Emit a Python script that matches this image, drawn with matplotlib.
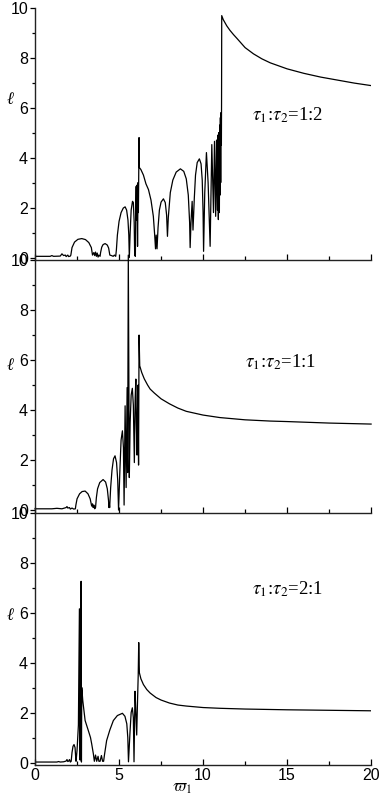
import numpy as np
import matplotlib
matplotlib.use('Agg')
import matplotlib.pyplot as plt
from matplotlib.ticker import MultipleLocator

plt.rcParams['font.family'] = ['Liberation Sans', 'DejaVu Sans']
plt.rcParams['mathtext.fontset'] = 'stix'

# tau1:tau2 = 1:2
w_12 = [0.0, 0.9, 1.0, 1.1, 1.5, 1.6, 1.7, 1.8, 1.85, 1.95, 2.0, 2.1,
        2.13, 2.2, 2.35, 2.55, 2.78, 3.0, 3.2, 3.35, 3.42,
        3.5, 3.55, 3.6, 3.65, 3.7, 3.75, 3.8, 3.87,
        3.9, 3.97, 4.05, 4.17, 4.3, 4.38, 4.45,
        4.55, 4.65, 4.72, 4.8,
        4.84, 4.9, 5.0, 5.12, 5.25, 5.36, 5.45, 5.53, 5.58, 5.61,
        5.66, 5.72, 5.8, 5.85, 5.9, 5.93,
        5.97, 6.0, 6.02, 6.04, 6.07, 6.1, 6.13, 6.15, 6.19, 6.21,
        6.3, 6.45, 6.6, 6.75, 6.9, 7.04, 7.12, 7.17, 7.21, 7.26,
        7.32, 7.4, 7.5, 7.64, 7.75, 7.83, 7.88,
        7.93, 8.05, 8.2, 8.4, 8.65, 8.85, 9.0, 9.12, 9.2, 9.23,
        9.28, 9.35, 9.4,
        9.48, 9.55, 9.65, 9.78, 9.88, 9.95, 10.0, 10.03,
        10.1, 10.2, 10.3, 10.42, 10.52, 10.62, 10.68, 10.75, 10.8, 10.85,
        10.88, 10.91, 10.94, 10.97, 10.99, 11.01, 11.03, 11.05, 11.07,
        11.09, 11.1, 11.11,
        11.2, 11.41, 11.6, 11.81, 12.0, 12.5, 13.0, 13.5, 14.0, 15.0,
        16.0, 17.0, 18.0, 19.0, 20.0]
l_12 = [0.05, 0.05, 0.08, 0.05, 0.06, 0.15, 0.08, 0.1, 0.04, 0.1, 0.04, 0.06,
        0.1, 0.4, 0.62, 0.73, 0.76, 0.72, 0.6, 0.4, 0.1,
        0.2, 0.08, 0.22, 0.05, 0.18, 0.02, 0.1, 0.05,
        0.2, 0.42, 0.52, 0.56, 0.5, 0.38, 0.1,
        0.08, 0.05, 0.1, 0.05,
        0.3, 0.9, 1.45, 1.8, 1.98, 2.03, 1.9, 1.5, 0.9, 0.0,
        1.0, 1.9, 2.25, 2.2, 1.4, 0.1,
        0.05, 2.2, 2.85, 1.5, 2.9, 0.45, 3.0, 1.8, 4.8, 3.6,
        3.52, 3.3, 2.95, 2.72, 2.3, 1.65, 0.9, 0.35, 0.9, 0.35,
        1.2, 1.9, 2.22, 2.35, 2.2, 1.7, 0.85,
        1.6, 2.6, 3.1, 3.42, 3.55, 3.45, 3.15, 2.5, 1.4, 0.4,
        1.4, 2.25, 1.1,
        2.4, 3.3, 3.8, 3.95, 3.75, 3.1, 1.8, 0.25,
        2.6, 4.2, 3.0, 0.45, 4.52, 1.8, 4.65, 1.65, 4.7, 1.9,
        4.9, 1.52, 5.0, 1.8, 5.3, 2.5, 5.6, 3.0, 5.8,
        4.5, 6.2, 9.68,
        9.52, 9.27, 9.09, 8.92, 8.78, 8.4, 8.15, 7.95, 7.79, 7.55,
        7.37, 7.22, 7.1, 6.98, 6.88]

# tau1:tau2 = 1:1
w_11 = [0.0, 1.0, 1.3, 1.6, 1.85, 1.9, 1.95, 2.05, 2.1, 2.2, 2.3, 2.4,
        2.43, 2.5, 2.65, 2.8, 2.98, 3.15, 3.28, 3.37, 3.42, 3.46, 3.5, 3.55, 3.6,
        3.65, 3.72, 3.85, 4.05, 4.2, 4.3, 4.37, 4.4, 4.42, 4.44,
        4.5, 4.58, 4.67, 4.76, 4.85, 4.92, 4.97,
        5.05, 5.12, 5.2, 5.26, 5.3, 5.36, 5.42, 5.48, 5.51, 5.55, 5.61,
        5.66, 5.72, 5.79, 5.85, 5.91, 5.96, 6.0, 6.03, 6.07, 6.1, 6.13,
        6.16, 6.19, 6.23,
        6.35, 6.5, 6.7, 6.85, 7.1, 7.5, 8.0, 8.5, 9.0, 10.0, 11.0, 12.5,
        14.0, 15.0, 17.5, 20.0]
l_11 = [0.05, 0.05, 0.07, 0.05, 0.1, 0.14, 0.08, 0.1, 0.04, 0.08, 0.04, 0.05,
        0.2, 0.45, 0.65, 0.74, 0.76, 0.65, 0.45, 0.16, 0.25, 0.1, 0.2, 0.05, 0.1,
        0.5, 0.85, 1.1, 1.22, 1.12, 0.85, 0.4, 0.1, 0.25, 0.1,
        0.9, 1.6, 2.05, 2.17, 1.9, 1.2, 0.0,
        1.6, 2.8, 3.17, 2.5, 0.2, 4.17, 0.9, 4.9, 1.5, 10.2, 1.3,
        3.5, 4.6, 4.87, 4.2, 1.9, 4.5, 5.24, 3.5, 2.2, 4.0, 5.0,
        1.8, 7.0, 5.77,
        5.5, 5.25, 5.0, 4.84, 4.68, 4.45, 4.25, 4.08, 3.95, 3.8, 3.7, 3.61,
        3.56, 3.54, 3.48, 3.44]

# tau1:tau2 = 2:1
w_21 = [0.0, 1.3, 1.4, 1.5, 1.7, 1.85, 1.9, 1.95, 2.0, 2.05, 2.1, 2.15,
        2.2, 2.26, 2.32, 2.38, 2.42, 2.44, 2.5, 2.58, 2.64, 2.68, 2.7, 2.74,
        2.76, 2.78, 2.84, 2.98, 3.17, 3.3, 3.37, 3.47, 3.53,
        3.6, 3.67, 3.75, 3.8, 3.87, 3.95, 4.02, 4.08,
        4.13, 4.26, 4.45, 4.66, 4.9, 5.2, 5.35, 5.46, 5.52, 5.56,
        5.65, 5.72, 5.79, 5.85, 5.89, 5.95, 6.0, 6.05, 6.1, 6.14, 6.17, 6.21,
        6.3, 6.45, 6.65, 6.85, 7.2, 7.5, 8.0, 8.5, 9.0, 10.0, 11.0, 12.5,
        15.0, 17.5, 20.0]
l_21 = [0.02, 0.02, 0.04, 0.02, 0.03, 0.06, 0.12, 0.04, 0.06, 0.12, 0.02, 0.05,
        0.4, 0.65, 0.72, 0.6, 0.2, 0.05, 0.5, 1.5, 6.15, 0.1, 2.5, 7.25,
        0.02, 3.0, 2.48, 1.68, 1.28, 1.0, 0.75, 0.35, 0.05,
        0.3, 0.05, 0.25, 0.05, 0.05, 0.28, 0.05, 0.05,
        0.3, 0.88, 1.3, 1.68, 1.88, 1.97, 1.85, 1.55, 1.0, 0.03,
        1.2, 2.0, 2.19, 1.8, 0.03, 2.85, 2.0, 1.1, 2.5, 3.5, 4.8, 3.59,
        3.35, 3.12, 2.92, 2.78, 2.6, 2.5, 2.38, 2.3, 2.26, 2.2, 2.17, 2.14,
        2.11, 2.09, 2.07]

panels = [(w_12, l_12, r'$\tau_1$:$\tau_2$=1:2', 12.9, 5.7, 0.634),
          (w_11, l_11, r'$\tau_1$:$\tau_2$=1:1', 12.5, 5.9, 0.58),
          (w_21, l_21, r'$\tau_1$:$\tau_2$=2:1', 12.9, 6.95, 0.59)]

fig = plt.figure(figsize=(3.81, 8.0), dpi=100)
left, width, h = 0.092, 0.882, 0.3156
bottoms = [0.0437 + 2 * h, 0.0437 + h, 0.0437]

for i, (w, l, lab, tx, ty, ly) in enumerate(panels):
    ax = fig.add_axes([left, bottoms[i], width, h])
    ax.patch.set_alpha(0)
    ax.plot(w, l, color='black', lw=0.9, clip_on=(i != 1))
    ax.set_xlim(0, 20)
    ax.set_ylim(-0.1, 10)
    ax.spines['top'].set_visible(False)
    ax.spines['right'].set_visible(False)
    for s in ['left', 'bottom']:
        ax.spines[s].set_linewidth(1.0)
        ax.spines[s].set_color('#222222')
    ax.yaxis.set_major_locator(MultipleLocator(2))
    ax.yaxis.set_minor_locator(MultipleLocator(1))
    ax.xaxis.set_major_locator(MultipleLocator(5))
    ax.xaxis.set_minor_locator(MultipleLocator(2.5))
    ax.tick_params(axis='y', which='major', direction='out', length=3.5, width=0.9, pad=1.5, labelsize=11.5)
    ax.tick_params(axis='y', which='minor', direction='out', length=2.5, width=0.9)
    ax.tick_params(axis='x', which='major', direction='in', length=4, width=0.9, pad=2, labelsize=11.5)
    ax.tick_params(axis='x', which='minor', direction='in', length=3, width=0.9)
    if i < 2:
        ax.tick_params(axis='x', labelbottom=False)
    ax.text(tx, ty, lab, fontsize=13.5, family=['Liberation Serif', 'DejaVu Serif'], va='center')
    ax.text(-0.074, ly, '\u2113', transform=ax.transAxes, fontsize=12,
            family=['Liberation Serif', 'DejaVu Serif'], style='italic',
            ha='center', va='center')
    if i == 2:
        ax.set_xlabel(r'$\varpi_1$', fontsize=12, labelpad=0)
        ax.xaxis.set_label_coords(0.4375, -0.065)

fig.savefig('out.png', dpi=100)
